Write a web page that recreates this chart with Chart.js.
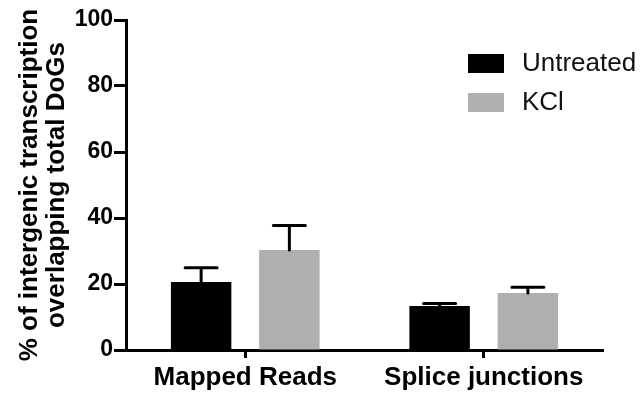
<!DOCTYPE html>
<html>
<head>
<meta charset="utf-8">
<script src="https://cdn.jsdelivr.net/npm/chart.js@4/dist/chart.umd.min.js"></script>
<style>
  html, body { margin: 0; padding: 0; background: #fff; }
  #wrap { width: 643px; height: 396px; position: relative; }
</style>
</head>
<body>
<div id="wrap"><canvas id="chart"></canvas></div>
<script>
const FONT = "'Liberation Sans', Arial, sans-serif";
const BLACK = "#000000";
const GREY = "#afafaf";

const categories = ["Mapped Reads", "Splice junctions"];
const seriesNames = ["Untreated", "KCl"];
const untreated = [20.6, 13.3];
const untreatedErr = [4.3, 0.8];
const kcl = [30.3, 17.3];
const kclErr = [7.4, 1.7];
const yTicks = [0, 20, 40, 60, 80, 100];

// one-sided (upper) error bars, drawn from each bar's value + err
const errorBars = {
  id: "errorBars",
  afterDatasetsDraw(chart) {
    const ctx = chart.ctx;
    const y = chart.scales.y;
    chart.data.datasets.forEach((ds, i) => {
      const meta = chart.getDatasetMeta(i);
      meta.data.forEach((bar, j) => {
        const top = y.getPixelForValue(ds.data[j] + ds.err[j]);
        ctx.save();
        ctx.strokeStyle = BLACK;
        ctx.lineWidth = 3;
        ctx.lineCap = "round";
        ctx.beginPath();
        ctx.moveTo(bar.x, bar.y);
        ctx.lineTo(bar.x, top);
        ctx.moveTo(bar.x - 16, top);
        ctx.lineTo(bar.x + 16, top);
        ctx.stroke();
        ctx.restore();
      });
    });
  },
};

// legend sitting inside the plot, top right
const insideLegend = {
  id: "insideLegend",
  afterDraw(chart) {
    const ctx = chart.ctx;
    ctx.save();
    ctx.font = "26px " + FONT;
    ctx.textBaseline = "middle";
    chart.data.datasets.forEach((ds, i) => {
      const top = 54 + i * 39;
      ctx.fillStyle = ds.backgroundColor;
      ctx.fillRect(468, top, 36, 19);
      ctx.fillStyle = "#111";
      ctx.fillText(ds.label, 522, top + 10);
    });
    ctx.restore();
  },
};

new Chart(document.getElementById("chart"), {
  type: "bar",
  data: {
    labels: categories,
    datasets: [
      { label: seriesNames[0], data: untreated, err: untreatedErr, backgroundColor: BLACK },
      { label: seriesNames[1], data: kcl, err: kclErr, backgroundColor: GREY },
    ],
  },
  options: {
    responsive: true,
    maintainAspectRatio: false,
    animation: false,
    barPercentage: 0.685,
    categoryPercentage: 0.74,
    layout: { padding: { top: 20, right: 40, left: 16, bottom: 0 } },
    plugins: { legend: { display: false }, tooltip: { enabled: false } },
    scales: {
      x: {
        afterFit: (s) => { s.height = 46; },
        grid: {
          offset: false,
          drawOnChartArea: false,
          tickLength: 8,
          tickWidth: 3,
          tickColor: BLACK,
        },
        border: { display: true, width: 3, color: BLACK },
        ticks: {
          color: BLACK,
          padding: 4,
          font: { family: FONT, size: 26, weight: "bold" },
        },
      },
      y: {
        min: 0,
        max: 100,
        afterFit: (s) => { s.width = 110; },
        afterBuildTicks: (s) => { s.ticks = yTicks.map((v) => ({ value: v })); },
        grid: {
          drawOnChartArea: false,
          tickLength: 12,
          tickWidth: 3,
          tickColor: BLACK,
        },
        border: { display: true, width: 3, color: BLACK },
        ticks: {
          color: BLACK,
          padding: 1,
          font: { family: FONT, size: 23, weight: "bold" },
        },
        title: {
          display: true,
          text: ["% of intergenic transcription", "overlapping total DoGs"],
          color: BLACK,
          padding: { top: 0, bottom: 0 },
          font: { family: FONT, size: 26, weight: "bold", lineHeight: 1.05 },
        },
      },
    },
  },
  plugins: [errorBars, insideLegend],
});
</script>
</body>
</html>
